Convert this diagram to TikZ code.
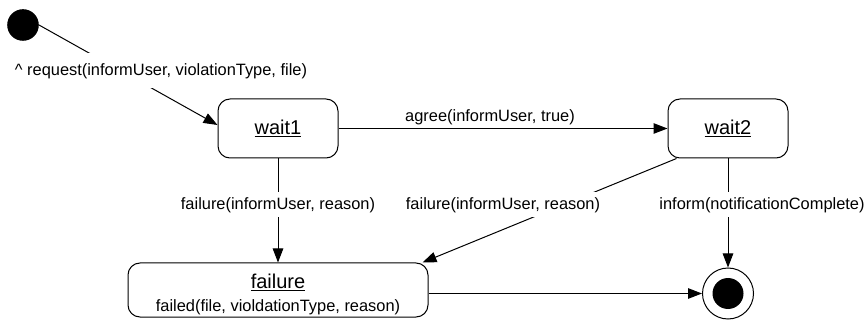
\documentclass[tikz,border=0pt]{standalone}
\usepackage{fontspec}
\setmainfont{Liberation Sans}
\usetikzlibrary{arrows.meta}
\begin{document}
\begin{tikzpicture}[x=1pt,y=-1pt,
  txt/.style={font=\fontsize{16.4}{19}\selectfont, inner sep=0pt},
  state/.style={draw, line width=1pt, rounded corners=12pt, inner sep=0pt,
    minimum width=120pt, minimum height=59pt, font=\fontsize{20}{24}\selectfont},
  trans/.style={line width=1pt, -{Triangle[length=14pt,width=10.5pt]}},
  lbl/.style={txt, fill=white, inner xsep=3pt, minimum height=25pt},
  startdot/.style={circle, fill=black, inner sep=0pt, minimum size=31.6pt},
  enddot/.style={circle, fill=black, inner sep=0pt, minimum size=31pt},
  endring/.style={circle, draw, line width=1pt, inner sep=0pt, minimum size=51pt}
]
\useasboundingbox (0,0) rectangle (867,320);

% states
\node[startdot] (init) at (23,25) {};
\node[state] (wait1) at (278,128.5) {\underline{wait1}};
\node[state] (wait2) at (728,128.5) {\underline{wait2}};
\node[state, minimum width=300pt, minimum height=54pt, align=center] (failure) at (278,290)
  {{\fontsize{20}{22}\selectfont\rule{0pt}{24pt}\underline{failure}}\\[-1pt]
   {\fontsize{16.4}{19}\selectfont failed(file, violdationType, reason)}};
\node[endring] (final) at (728,293.5) {};
\node[enddot] (finaldot) at (final) {};

% transitions
\draw[trans] (init.east) -- ([yshift=3.5pt]wait1.west);
\draw[trans] (wait1) -- (wait2);
\draw[trans] (wait1) -- (failure);
\draw[trans] ([xshift=9pt]wait2.south west) -- ([xshift=-6pt]failure.north east);
\draw[trans] (wait2) -- (final);
\draw[trans] (failure.east |- final) -- (final);

% transition labels
\node[lbl, minimum height=35pt] (lreq) at (161,71) {\^{} request(informUser, violationType, file)};
\node[txt] (lagree) at (490,117) {agree(informUser, true)};
\node[lbl] (lfail1) at (278,205) {failure(informUser, reason)};
\node[lbl] (lfail2) at (503,205) {failure(informUser, reason)};
\node[lbl] (linform) at (762,205) {inform(notificationComplete)};
\end{tikzpicture}
\end{document}
